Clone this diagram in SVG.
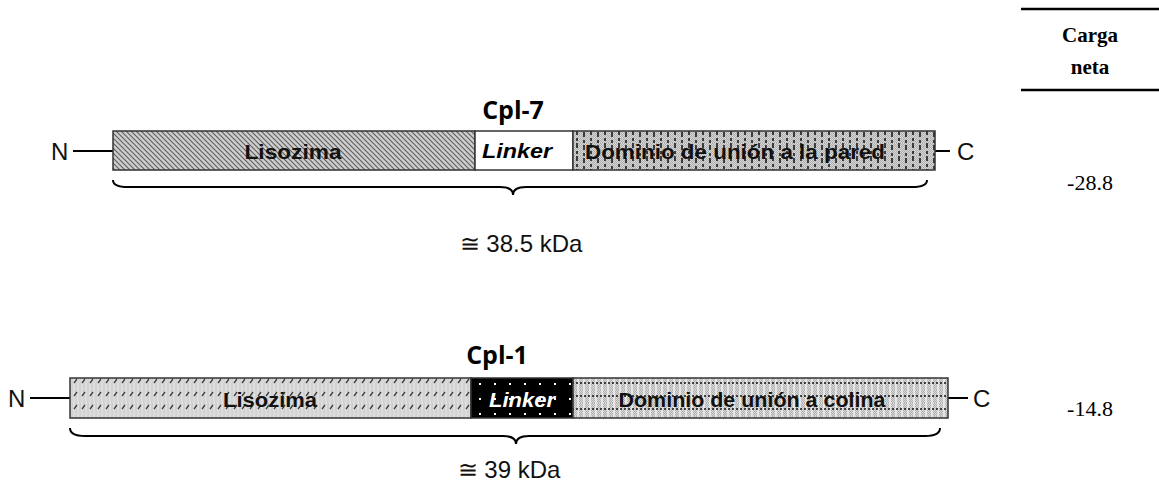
<svg xmlns="http://www.w3.org/2000/svg" width="1159" height="488" viewBox="0 0 1159 488">
  <style>
    .term { font-family: "Liberation Sans", Arial, sans-serif; font-size: 24px; fill: #111; }
    .dom { font-family: "Liberation Sans", Arial, sans-serif; font-size: 20px; font-weight: bold; fill: #111; text-anchor: middle; }
    .lnk { font-family: "Liberation Sans", Arial, sans-serif; font-size: 20px; font-weight: bold; font-style: italic; text-anchor: middle; }
    .title { font-family: "Open Sans", "Noto Sans", sans-serif; font-size: 25px; font-weight: bold; fill: #000; text-anchor: middle; }
    .mass { font-family: "Liberation Sans", Arial, sans-serif; font-size: 24px; fill: #111; text-anchor: middle; }
    .tbl { font-family: "Liberation Serif", "Times New Roman", serif; fill: #000; text-anchor: middle; }
    .box { stroke: #333; stroke-width: 1.5; }
    .wire { stroke: #000; stroke-width: 2; fill: none; }
    .brace { stroke: #000; stroke-width: 2; fill: none; }
  </style>
  <defs>
    <!-- fine checker used as a grey dither base -->
    <pattern id="dither" width="2" height="2" patternUnits="userSpaceOnUse">
      <rect width="2" height="2" fill="#dedede"/>
      <rect width="1" height="1" fill="#999"/>
      <rect x="1" y="1" width="1" height="1" fill="#999"/>
    </pattern>
    <!-- dense down-right hatch (Cpl-7 lysozyme) -->
    <pattern id="hatchDown" width="5" height="5" patternUnits="userSpaceOnUse">
      <rect width="5" height="5" fill="#cdcdcd"/>
      <path d="M-1,-1 L6,6 M-1,4 L1,6 M4,-1 L6,1" stroke="#5e5e5e" stroke-width="1.1"/>
    </pattern>
    <!-- dotted grey with dashed verticals (Cpl-7 wall-binding domain) -->
    <pattern id="dashVert" width="14" height="13" patternUnits="userSpaceOnUse">
      <rect width="14" height="13" fill="url(#dither)"/>
      <rect width="14" height="13" fill="#cccccc" opacity="0.4"/>
      <path d="M3,0 V5 M3,8 V11" stroke="#1a1a1a" stroke-width="1.6"/>
      <path d="M10,2 V7 M10,10 V13" stroke="#1a1a1a" stroke-width="1.6"/>
    </pattern>
    <!-- light grey with rows of slashes (Cpl-1 lysozyme) -->
    <pattern id="slashRows" width="8" height="13" patternUnits="userSpaceOnUse">
      <rect width="8" height="13" fill="#d2d2d2"/>
      <path d="M2,0 V13 M6,0 V13" stroke="#e8e8e8" stroke-width="1"/>
      <path d="M2,6 L5,2" stroke="#3a3a3a" stroke-width="1.3"/>
    </pattern>
    <!-- black with white dots (Cpl-1 linker) -->
    <pattern id="whiteDots" x="473" y="378" width="15" height="15" patternUnits="userSpaceOnUse">
      <rect width="15" height="15" fill="#000"/>
      <rect x="6" y="5" width="2" height="2" fill="#fff"/>
    </pattern>
    <!-- plaid grey (Cpl-1 choline-binding domain) -->
    <pattern id="plaid" width="12" height="13" patternUnits="userSpaceOnUse">
      <rect width="12" height="13" fill="url(#dither)"/>
      <rect width="12" height="13" fill="#d2d2d2" opacity="0.4"/>
      <path d="M2,0 V13 M8,0 V13" stroke="#f4f4f4" stroke-width="1.4"/>
      <path d="M0,6 H12" stroke="#111" stroke-width="1.4" stroke-dasharray="2 2"/>
    </pattern>
  </defs>

  <rect width="1159" height="488" fill="#fff"/>

  <!-- connectors: terminal tails and size braces -->
  <g id="connectors">
    <line class="wire" x1="73" y1="151" x2="113" y2="151"/>
    <line class="wire" x1="935" y1="151" x2="950" y2="151"/>
    <line class="wire" x1="30" y1="398" x2="70" y2="398"/>
    <line class="wire" x1="948" y1="398" x2="968" y2="398"/>
    <path class="brace" d="M113,180 Q113,187 128,187 L500,187 Q513,187 513,195 Q513,187 526,187 L912,187 Q927,187 927,180"/>
    <path class="brace" d="M70,428 Q70,436 85,436 L503,436 Q516,436 516,444 Q516,436 529,436 L925,436 Q940,436 940,428"/>
  </g>

  <!-- Cpl-7 -->
  <g id="cpl7">
    <text class="title" x="513" y="119">Cpl-7</text>
    <text class="term" x="51" y="160">N</text>
    <text class="term" x="957" y="160">C</text>
    <g id="cpl7-lys">
      <rect class="box" x="113" y="131" width="362" height="39" fill="url(#hatchDown)"/>
      <text class="dom" x="293" y="159" textLength="97" lengthAdjust="spacingAndGlyphs">Lisozima</text>
    </g>
    <g id="cpl7-linker">
      <rect class="box" x="475" y="131" width="98" height="39" fill="#fff"/>
      <text class="lnk" x="517" y="158" fill="#000" textLength="70" lengthAdjust="spacingAndGlyphs">Linker</text>
    </g>
    <g id="cpl7-cwbd">
      <rect class="box" x="573" y="131" width="362" height="39" fill="url(#dashVert)"/>
      <text class="dom" x="735" y="159" textLength="300" lengthAdjust="spacingAndGlyphs">Dominio de unión a la pared</text>
    </g>
    <text class="mass" x="521" y="252">≅ 38.5 kDa</text>
  </g>

  <!-- Cpl-1 -->
  <g id="cpl1">
    <text class="title" x="497" y="364">Cpl-1</text>
    <text class="term" x="8" y="407">N</text>
    <text class="term" x="973" y="407">C</text>
    <g id="cpl1-lys">
      <rect class="box" x="70" y="378" width="401" height="40" fill="url(#slashRows)"/>
      <text class="dom" x="270" y="407" textLength="94" lengthAdjust="spacingAndGlyphs">Lisozima</text>
    </g>
    <g id="cpl1-linker">
      <rect class="box" x="471" y="378" width="102" height="40" fill="url(#whiteDots)"/>
      <text class="lnk" x="522" y="407" fill="#fff" textLength="66" lengthAdjust="spacingAndGlyphs">Linker</text>
    </g>
    <g id="cpl1-cbd">
      <rect class="box" x="573" y="378" width="375" height="40" fill="url(#plaid)"/>
      <text class="dom" x="752" y="407" textLength="267" lengthAdjust="spacingAndGlyphs">Dominio de unión a colina</text>
    </g>
    <text class="mass" x="509" y="478">≅ 39 kDa</text>
  </g>

  <!-- net charge column -->
  <g id="charge-table">
    <line x1="1021" y1="9" x2="1159" y2="9" stroke="#000" stroke-width="2.5"/>
    <text class="tbl" x="1090" y="42" font-size="21" font-weight="bold">Carga</text>
    <text class="tbl" x="1090" y="74" font-size="21" font-weight="bold">neta</text>
    <line x1="1021" y1="90" x2="1159" y2="90" stroke="#000" stroke-width="2.5"/>
    <text class="tbl" x="1090" y="190" font-size="22">-28.8</text>
    <text class="tbl" x="1090" y="416" font-size="22">-14.8</text>
  </g>
</svg>
